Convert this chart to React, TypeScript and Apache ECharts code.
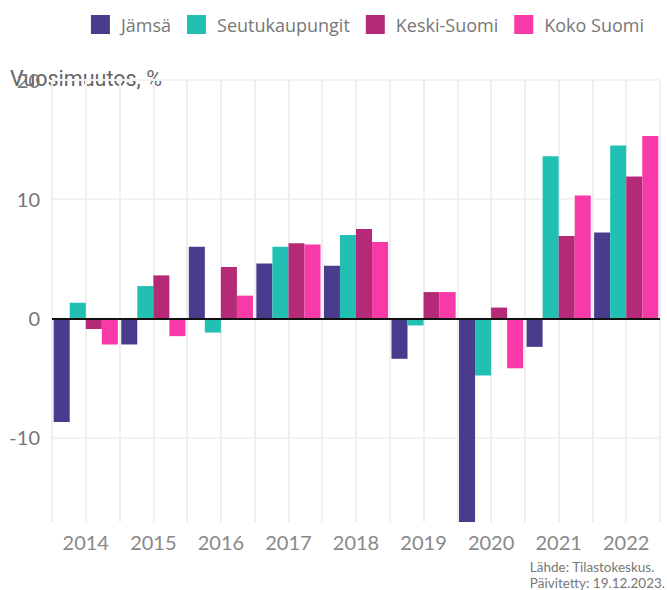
import React, { useEffect, useRef } from "react";
import * as echarts from "echarts";

const years = ["2014", "2015", "2016", "2017", "2018", "2019", "2020", "2021", "2022"];
const seriesNames = ["Jämsä", "Seutukaupungit", "Keski-Suomi", "Koko Suomi"];
const jamsa = [-8.7, -2.2, 6.0, 4.6, 4.4, -3.4, -17.1, -2.4, 7.2];
const seutukaupungit = [1.3, 2.7, -1.2, 6.0, 7.0, -0.6, -4.8, 13.6, 14.5];
const keskiSuomi = [-0.9, 3.6, 4.3, 6.3, 7.5, 2.2, 0.9, 6.9, 11.9];
const kokoSuomi = [-2.2, -1.5, 1.9, 6.2, 6.4, 2.2, -4.2, 10.3, 15.3];
const yTicks = [-10, 0, 10, 20];
const colors = ["#4a3c8c", "#22c0b3", "#b42a77", "#f83aa8"];
const halfSteps = Array.from({ length: years.length * 2 }, (_, i) => String(i));

export default function App() {
  const ref = useRef<HTMLDivElement>(null);
  useEffect(() => {
    if (!ref.current) return;
    const chart = echarts.init(ref.current, null, { renderer: "svg" });
    const values = [jamsa, seutukaupungit, keskiSuomi, kokoSuomi];
    const font = "Lato, 'Open Sans', sans-serif";
    chart.setOption({
      animation: false,
      color: colors,
      textStyle: { fontFamily: font },
      legend: {
        top: 10,
        right: 18,
        itemWidth: 19,
        itemHeight: 19,
        itemGap: 16,
        icon: "rect",
        formatter: (n: string) => "{t|" + n + "}",
        textStyle: {
          fontSize: 18,
          color: "#777",
          fontFamily: "'Open Sans', sans-serif",
          rich: { t: { fontSize: 18, color: "#777", fontFamily: "'Open Sans', sans-serif", padding: [0, 0, 0, 6] } },
        },
        data: seriesNames,
      },
      grid: { left: 52, right: 7, top: 80, bottom: 68 },
      xAxis: [
        {
          type: "category",
          data: years,
          axisLine: { show: false },
          axisTick: { show: false },
          splitLine: { show: false },
          axisLabel: { fontSize: 20, color: "#888", margin: 10, fontFamily: font },
        },
        {
          type: "category",
          data: halfSteps,
          position: "bottom",
          axisLine: { show: false },
          axisTick: { show: false },
          axisLabel: { show: false },
          splitLine: { show: true, lineStyle: { color: "#efefef", width: 2 } },
        },
      ],
      yAxis: {
        type: "value",
        min: -17.1,
        max: 20,
        axisLine: { show: false },
        axisTick: { show: false, customValues: yTicks },
        axisLabel: { customValues: yTicks, fontSize: 20, color: "#777", margin: 12, fontFamily: font },
        splitLine: { show: true, lineStyle: { color: "#f2f2f2", width: 2 } },
      },
      graphic: [
        {
          type: "text",
          left: 10,
          top: 67,
          style: { text: "Vuosimuutos, %", fontSize: 21.5, fill: "#666", fontFamily: "Roboto, sans-serif" },
        },
        {
          type: "text",
          right: 2,
          top: 559,
          style: {
            text: "Lähde: Tilastokeskus.\nPäivitetty: 19.12.2023.",
            fontSize: 13.5,
            lineHeight: 16,
            fill: "#777",
            align: "right",
            fontFamily: font,
          },
        },
      ],
      series: seriesNames.map((name, i) => ({
        name,
        type: "bar",
        xAxisIndex: 0,
        data: values[i],
        barGap: "0%",
        barCategoryGap: "5%",
        itemStyle: { color: colors[i] },
        ...(i === 3
          ? {
              markLine: {
                silent: true,
                symbol: "none",
                label: { show: false },
                lineStyle: { color: "#111", width: 2, type: "solid" },
                data: [{ yAxis: 0 }],
              },
            }
          : {}),
      })),
    });
    return () => chart.dispose();
  }, []);
  return <div ref={ref} style={{ width: 667, height: 590, position: "absolute", left: 0, top: 0 }} />;
}
